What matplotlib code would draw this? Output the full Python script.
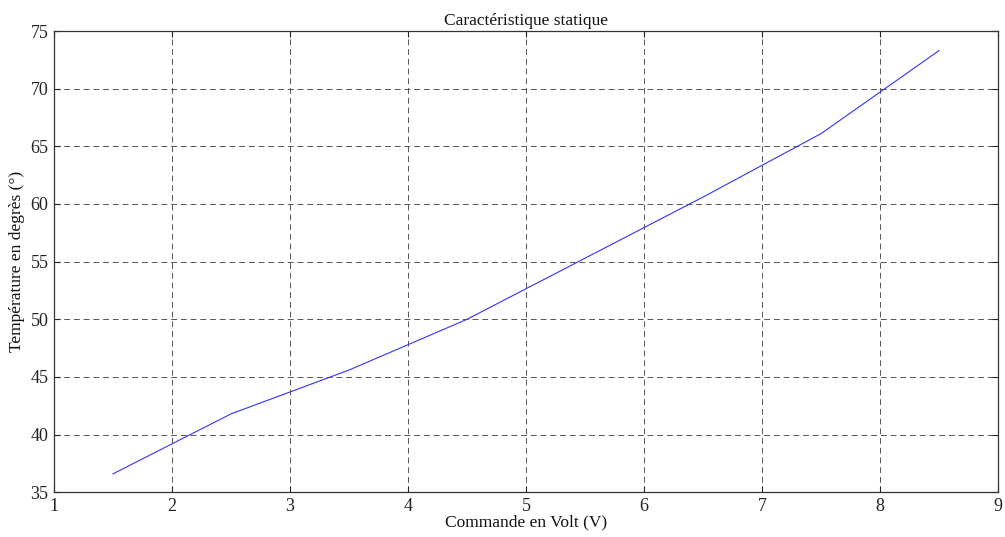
import matplotlib
matplotlib.use("Agg")
import matplotlib.pyplot as plt

commande = [1.5, 2.5, 3.5, 4.5, 5.5, 6.5, 7.5, 8.5]
temperature = [36.6, 41.8, 45.6, 50.0, 55.3, 60.6, 66.1, 73.3]
xticks = [1, 2, 3, 4, 5, 6, 7, 8, 9]
yticks = [35, 40, 45, 50, 55, 60, 65, 70, 75]

plt.rcParams['font.family'] = ['Liberation Serif', 'DejaVu Serif']

fig = plt.figure(figsize=(10.05, 5.37), dpi=100)
ax = fig.add_axes([54/1005, (537-492.3)/537, (998-54)/1005, (492.3-31)/537])

ax.plot(commande, temperature, color='#3333ff', linewidth=0.8)

ax.set_xlim(1, 9)
ax.set_ylim(35, 75)
ax.set_xticks(xticks)
ax.set_yticks(yticks)
ax.tick_params(direction='in', length=4, width=0.8, top=True, right=True,
               labelsize=13, colors='#222222', pad=4)
ax.grid(True, linestyle=(0, (6, 4)), color='#555555', linewidth=0.7)
for s in ax.spines.values():
    s.set_linewidth(0.9)
    s.set_color('#333333')

ax.set_title('Caractéristique statique', fontsize=12.5, pad=4, color='#111111')
ax.set_xlabel('Commande en Volt (V)', fontsize=12.5, labelpad=0, color='#111111')
ax.set_ylabel('Température en degrès (°)', fontsize=12.5, labelpad=4, color='#111111')

fig.savefig('out.png', dpi=100)
